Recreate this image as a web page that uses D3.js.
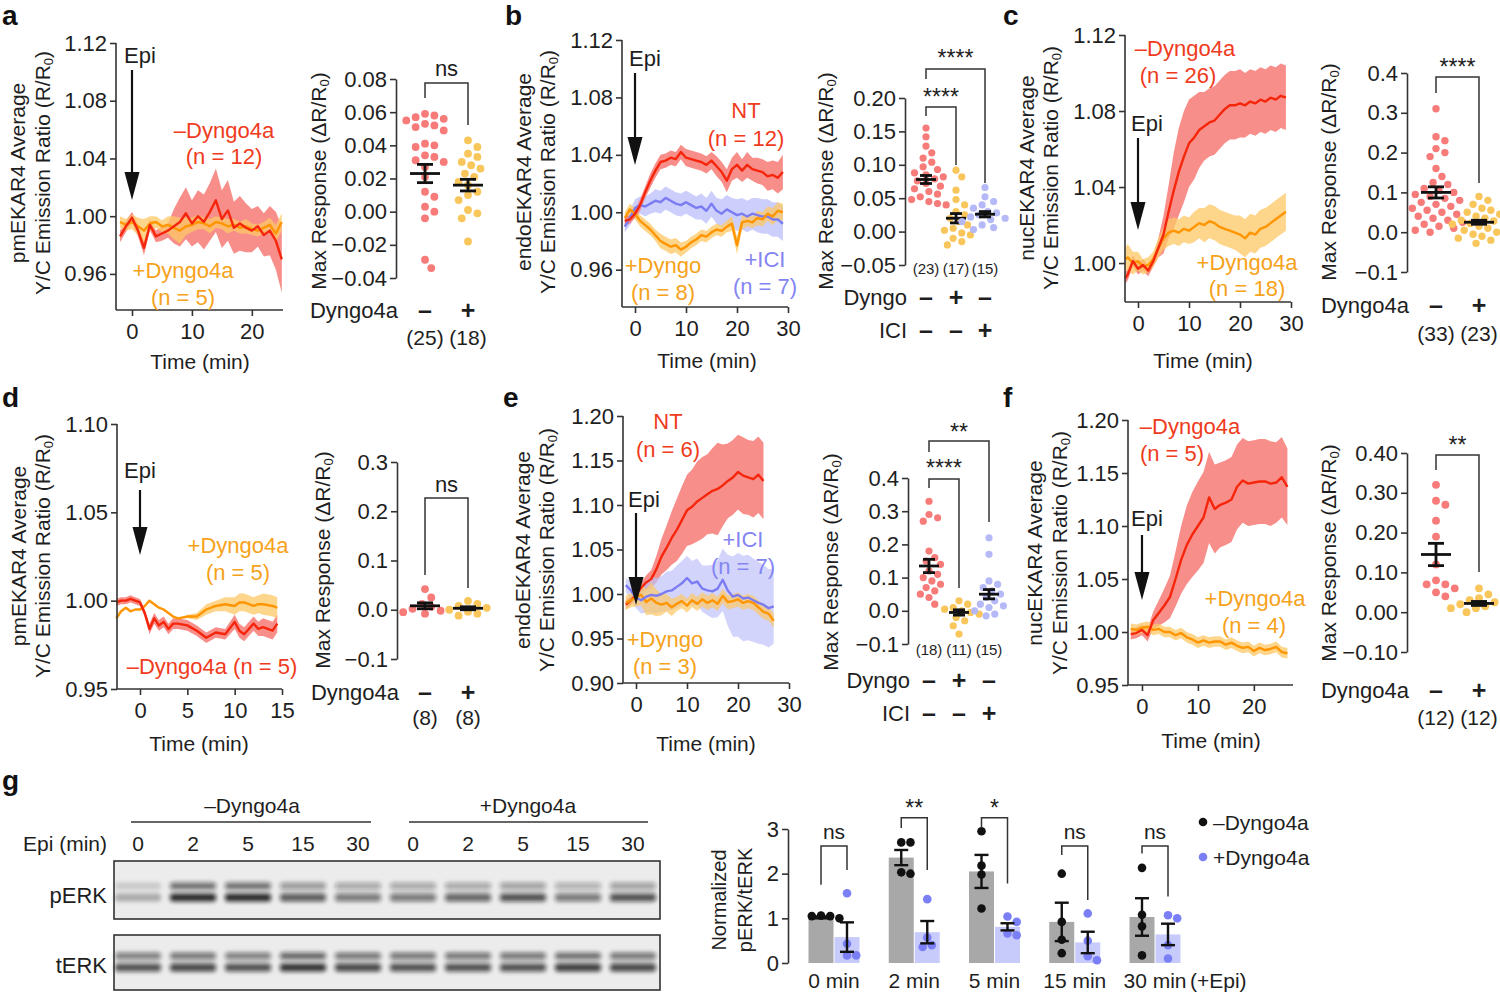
<!DOCTYPE html>
<html><head><meta charset="utf-8">
<script src="https://cdn.jsdelivr.net/npm/d3@7"></script>
<style>body{margin:0;background:#fff}</style>
</head><body>
<script>
// ================= DATA =================
// Panel a (pmEKAR4)
const tA = [-2,-1,0,1,2,3,4,5,6,7,8,9,10,11,12,13,14,15,16,17,18,19,20,21,22,23,24,25];
const aRedM = [0.986,0.993,0.999,0.990,0.978,0.994,0.986,0.988,0.990,0.993,0.996,1.002,0.995,1.000,0.996,1.003,1.011,0.998,1.004,0.992,0.995,0.992,0.990,0.993,0.987,0.990,0.983,0.970];
const aRedE = [0.004,0.004,0.004,0.004,0.005,0.004,0.004,0.005,0.005,0.012,0.017,0.018,0.016,0.018,0.019,0.020,0.022,0.020,0.021,0.018,0.019,0.017,0.015,0.014,0.015,0.017,0.020,0.023];
const aOrM = [0.996,0.994,0.996,0.993,0.990,0.995,0.996,0.993,0.994,0.992,0.990,0.993,0.994,0.996,0.995,0.993,0.996,0.995,0.993,0.994,0.992,0.993,0.991,0.990,0.992,0.994,0.988,0.996];
const aOrE = [0.004,0.004,0.005,0.006,0.008,0.005,0.004,0.004,0.006,0.008,0.009,0.006,0.005,0.005,0.004,0.005,0.004,0.004,0.005,0.004,0.004,0.005,0.004,0.004,0.004,0.005,0.006,0.006];
// Panel b (endoEKAR4)
const tB = [-2,-1,0,1,2,3,4,5,6,7,8,9,10,11,12,13,14,15,16,17,18,19,20,21,22,23,24,25,26,27,28,29];
const bRedM = [0.994,0.995,0.999,1.005,1.014,1.022,1.029,1.035,1.036,1.038,1.037,1.042,1.038,1.037,1.036,1.035,1.033,1.036,1.032,1.028,1.022,1.030,1.033,1.029,1.033,1.030,1.029,1.028,1.025,1.026,1.024,1.028];
const bRedE = [0.003,0.003,0.003,0.004,0.004,0.005,0.005,0.005,0.005,0.005,0.005,0.005,0.006,0.006,0.006,0.006,0.006,0.006,0.007,0.007,0.008,0.008,0.009,0.008,0.009,0.008,0.009,0.009,0.010,0.010,0.011,0.012];
const bBlueM = [0.990,0.996,1.003,1.005,1.004,1.006,1.008,1.007,1.010,1.008,1.006,1.005,1.007,1.005,1.003,1.004,1.001,1.006,1.001,0.999,1.002,1.000,0.998,0.999,0.997,0.999,0.998,0.997,0.997,0.995,0.995,0.992];
const bBlueE = [0.004,0.005,0.006,0.006,0.007,0.007,0.008,0.008,0.008,0.008,0.008,0.008,0.008,0.008,0.008,0.009,0.009,0.009,0.009,0.010,0.010,0.010,0.011,0.011,0.011,0.011,0.012,0.012,0.012,0.012,0.012,0.012];
const bOrM = [0.996,1.002,0.999,0.994,0.991,0.988,0.984,0.980,0.978,0.976,0.977,0.974,0.976,0.979,0.981,0.984,0.983,0.986,0.988,0.987,0.990,0.992,0.977,0.993,0.994,0.993,0.996,0.995,0.999,0.997,1.001,1.000];
const bOrE = [0.004,0.004,0.004,0.004,0.004,0.004,0.004,0.005,0.005,0.005,0.005,0.005,0.004,0.004,0.004,0.004,0.004,0.004,0.004,0.004,0.004,0.005,0.006,0.005,0.004,0.004,0.005,0.005,0.005,0.006,0.006,0.006];
// Panel c (nucEKAR4)
const tC = [-2.5,-2,-1,0,1,2,3,4,5,6,7,8,9,10,11,12,13,14,15,16,17,18,19,20,21,22,23,24,25,26,27,28,29];
const cRedM = [0.992,0.994,1.001,0.997,0.999,0.996,1.001,1.008,1.015,1.027,1.038,1.048,1.056,1.063,1.066,1.070,1.072,1.074,1.075,1.078,1.081,1.083,1.083,1.084,1.083,1.085,1.084,1.086,1.085,1.087,1.086,1.088,1.087];
const cRedE = [0.003,0.003,0.003,0.003,0.003,0.003,0.003,0.005,0.010,0.014,0.020,0.023,0.024,0.023,0.022,0.020,0.018,0.018,0.018,0.018,0.018,0.018,0.018,0.018,0.017,0.017,0.017,0.017,0.017,0.017,0.017,0.017,0.017];
const cOrM = [1.002,1.003,1.000,1.001,0.998,0.999,1.002,1.008,1.013,1.016,1.017,1.016,1.018,1.017,1.019,1.021,1.020,1.022,1.021,1.019,1.018,1.017,1.016,1.015,1.013,1.016,1.015,1.018,1.019,1.021,1.023,1.025,1.027];
const cOrE = [0.006,0.007,0.006,0.005,0.004,0.004,0.004,0.005,0.006,0.007,0.007,0.007,0.007,0.007,0.008,0.008,0.009,0.009,0.009,0.009,0.009,0.009,0.009,0.010,0.010,0.010,0.010,0.010,0.010,0.010,0.010,0.010,0.010];
// Panel d (pmEKAR4)
const tD = [-2.5,-2,-1.5,-1,-0.5,0,0.5,1,1.5,2,2.5,3,3.5,4,5,6,7,8,9,10,10.5,11,12,12.5,13,14,14.5];
const dRedM = [0.999,1.000,1.000,1.001,1.000,0.999,0.993,0.984,0.990,0.986,0.988,0.984,0.987,0.987,0.986,0.983,0.979,0.982,0.981,0.988,0.983,0.981,0.987,0.984,0.985,0.983,0.987];
const dRedE = [0.002,0.002,0.002,0.002,0.002,0.002,0.002,0.003,0.003,0.003,0.003,0.003,0.003,0.003,0.003,0.003,0.003,0.003,0.003,0.004,0.004,0.004,0.004,0.004,0.005,0.005,0.005];
const dOrM = [0.990,0.994,0.996,0.994,0.995,0.995,0.997,1.000,0.998,0.996,0.995,0.993,0.991,0.990,0.991,0.991,0.995,0.997,0.998,0.997,0.999,0.999,0.997,0.998,0.998,0.997,0.996];
const dOrE = [0,0,0,0,0,0,0,0,0,0,0,0,0,0,0.001,0.002,0.003,0.003,0.004,0.005,0.005,0.005,0.005,0.005,0.006,0.006,0.006];
// Panel e (endoEKAR4)
const tE = [-2,-1,0,1,2,3,4,5,6,7,8,9,10,11,12,13,14,15,16,17,18,19,20,21,22,23,24,25,26,27];
const tEr = [-2,-1,0,1,2,3,4,5,6,7,8,9,10,11,12,13,14,15,16,17,18,19,20,21,22,23,24,25];
const eRedM = [0.988,0.993,0.999,1.007,1.013,1.017,1.028,1.042,1.052,1.063,1.072,1.083,1.094,1.098,1.104,1.108,1.112,1.116,1.118,1.122,1.127,1.131,1.137,1.133,1.131,1.129,1.134,1.127];
const eRedE = [0.005,0.005,0.005,0.006,0.008,0.010,0.015,0.020,0.025,0.030,0.035,0.038,0.040,0.042,0.045,0.046,0.045,0.048,0.052,0.046,0.042,0.042,0.042,0.043,0.042,0.043,0.043,0.043];
const eBlueM = [1.010,1.004,0.996,0.993,0.997,0.999,0.998,1.000,1.003,1.004,1.008,1.012,1.018,1.012,1.014,1.006,1.004,1.003,1.006,1.016,1.004,0.997,0.999,0.995,0.996,0.993,0.990,0.988,0.984,0.986];
const eBlueE = [0.008,0.010,0.012,0.015,0.018,0.020,0.020,0.020,0.022,0.022,0.024,0.025,0.025,0.025,0.026,0.026,0.028,0.030,0.032,0.035,0.040,0.045,0.047,0.048,0.048,0.047,0.046,0.045,0.044,0.042];
const eOrM = [0.990,0.993,0.996,0.999,0.991,0.995,0.990,0.988,0.990,0.985,0.989,0.992,0.987,0.993,0.989,0.994,0.990,0.993,0.989,0.998,0.991,0.992,0.994,0.990,0.992,0.990,0.985,0.980,0.978,0.970];
const eOrE = [0.008,0.008,0.010,0.012,0.015,0.018,0.015,0.012,0.010,0.010,0.008,0.008,0.008,0.008,0.008,0.008,0.008,0.008,0.008,0.008,0.008,0.008,0.008,0.008,0.008,0.008,0.008,0.008,0.008,0.008];
// Panel f (nucEKAR4)
const tF = [-2,-1,0,1,2,3,4,5,6,7,8,9,10,11,12,13,14,15,16,17,18,19,20,21,22,23,24,25,26];
const fRedM = [0.998,0.999,1.002,0.997,1.011,1.018,1.025,1.033,1.050,1.068,1.082,1.092,1.100,1.108,1.127,1.116,1.120,1.122,1.125,1.137,1.143,1.140,1.141,1.142,1.142,1.140,1.141,1.146,1.137];
const fRedE = [0.005,0.005,0.005,0.006,0.008,0.012,0.016,0.020,0.026,0.032,0.037,0.040,0.042,0.043,0.043,0.042,0.040,0.040,0.040,0.040,0.040,0.040,0.040,0.040,0.040,0.040,0.038,0.038,0.036];
const fOrM = [1.003,1.002,1.004,1.005,1.002,1.003,1.000,1.000,0.997,0.999,0.995,0.993,0.990,0.992,0.990,0.991,0.991,0.988,0.990,0.987,0.985,0.986,0.982,0.985,0.983,0.984,0.986,0.981,0.980];
const fOrE = [0.005,0.005,0.005,0.005,0.005,0.005,0.005,0.005,0.005,0.005,0.005,0.005,0.005,0.005,0.005,0.005,0.005,0.005,0.005,0.005,0.005,0.005,0.005,0.005,0.005,0.005,0.005,0.005,0.005];

// Tick labels
const yTicksAB = [0.96,1.00,1.04,1.08,1.12];
const yTicksC = [1.00,1.04,1.08,1.12];
const yTicksD = [0.95,1.00,1.05,1.10];
const yTicksE = [0.90,0.95,1.00,1.05,1.10,1.15,1.20];
const yTicksF = [0.95,1.00,1.05,1.10,1.15,1.20];
const xTicks20 = [0,10,20];
const xTicks30 = [0,10,20,30];
const xTicks15 = [0,5,10,15];

// Max response dot plots
const dotA = [[0.059,0.058,0.057,0.056,0.055,0.053,0.052,0.051,0.049,0.041,0.040,0.039,0.034,0.033,0.031,0.030,0.027,0.021,0.012,0.009,0.003,0.000,-0.004,-0.029,-0.034],
              [0.043,0.039,0.035,0.033,0.030,0.028,0.026,0.023,0.021,0.018,0.016,0.012,0.010,0.007,0.001,-0.001,-0.004,-0.018]];
const meanA = [0.023,0.016], semA = [0.0055,0.0035], nA = ["(25)","(18)"];
const dotB = [[0.155,0.142,0.128,0.118,0.110,0.104,0.097,0.093,0.088,0.085,0.082,0.079,0.076,0.072,0.068,0.064,0.060,0.056,0.052,0.048,0.045,0.042,0.040],
              [0.092,0.082,0.062,0.048,0.040,0.030,0.025,0.020,0.015,0.010,0.005,0.002,-0.002,-0.005,-0.010,-0.015,-0.020],
              [0.066,0.052,0.045,0.040,0.035,0.030,0.028,0.025,0.022,0.020,0.018,0.015,0.010,0.006,0.003]];
const meanB = [0.078,0.020,0.026], semB = [0.006,0.007,0.004], nB = ["(23)","(17)","(15)"];
const dotC = [[0.31,0.24,0.23,0.21,0.20,0.19,0.16,0.14,0.125,0.12,0.11,0.105,0.10,0.095,0.09,0.085,0.08,0.075,0.07,0.065,0.06,0.055,0.05,0.045,0.04,0.035,0.03,0.025,0.02,0.015,0.01,0.005,0.0],
              [0.09,0.08,0.07,0.06,0.055,0.05,0.045,0.04,0.035,0.03,0.028,0.025,0.022,0.02,0.015,0.01,0.005,0.0,-0.005,-0.01,-0.015,-0.02,-0.028]];
const meanC = [0.10,0.025], semC = [0.014,0.005], nC = ["(33)","(23)"];
const dotD = [[0.042,0.025,0.012,0.006,0.002,-0.002,-0.005,-0.008],
              [0.018,0.012,0.008,0.004,0.0,-0.004,-0.008,-0.012]];
const meanD = [0.008,0.003], semD = [0.006,0.003], nD = ["(8)","(8)"];
const dotE = [[0.33,0.29,0.28,0.27,0.18,0.16,0.15,0.14,0.12,0.11,0.10,0.09,0.08,0.07,0.06,0.05,0.04,0.02],
              [0.03,0.02,0.01,0.005,0.0,-0.005,-0.01,-0.02,-0.03,-0.045,-0.07],
              [0.22,0.17,0.09,0.08,0.07,0.06,0.05,0.04,0.03,0.02,0.015,0.01,0.0,-0.01,-0.015]];
const meanE = [0.135,-0.005,0.05], semE = [0.02,0.008,0.014], nE = ["(18)","(11)","(15)"];
const dotF = [[0.32,0.28,0.27,0.23,0.19,0.12,0.08,0.07,0.07,0.06,0.05,0.04],
              [0.06,0.045,0.035,0.03,0.025,0.02,0.02,0.015,0.01,0.01,0.005,0.0]];
const meanF = [0.145,0.022], semF = [0.028,0.005], nF = ["(12)","(12)"];
const dotTicksA = [-0.04,-0.02,0.00,0.02,0.04,0.06,0.08];
const dotTicksB = [-0.05,0.00,0.05,0.10,0.15,0.20];
const dotTicksC = [-0.1,0.0,0.1,0.2,0.3,0.4];
const dotTicksD = [-0.1,0.0,0.1,0.2,0.3];
const dotTicksF = [-0.10,0.00,0.10,0.20,0.30,0.40];

// Panel g: western blot
const laneLabels = ["0","2","5","15","30","0","2","5","15","30"];
const pERKup = [0.22,0.80,0.80,0.55,0.45,0.45,0.45,0.50,0.40,0.50];
const pERKlo = [0.32,1.00,1.00,0.75,0.60,0.60,0.70,0.80,0.60,0.80];
const tERKup = [0.70,0.75,0.70,0.85,0.75,0.75,0.75,0.75,0.80,0.75];
const tERKlo = [0.80,0.85,0.80,0.95,0.85,0.80,0.80,0.80,0.90,0.85];
// Panel g: quantification
const gCats = ["0 min","2 min","5 min","15 min","30 min"];
const grayMean = [1.02,2.36,2.05,0.92,1.03];
const graySem = [0.02,0.17,0.37,0.43,0.42];
const blueMean = [0.58,0.69,0.81,0.46,0.64];
const blueSem = [0.33,0.25,0.08,0.24,0.24];
const grayDots = [[1.06,1.05,1.05,1.00],[2.70,2.70,2.03,2.00],[2.95,2.18,1.98,1.22],[2.00,0.92,0.52,0.22],[2.13,1.08,0.82,0.17]];
const blueDots = [[1.56,0.43,0.17,0.17],[1.43,0.57,0.40,0.36],[1.04,0.92,0.66,0.62],[1.11,0.50,0.15,0.06],[1.07,1.00,0.40,0.10]];
const gSig = ["ns","**","*","ns","ns"];
const gSigTop = [2.62,3.25,3.25,2.62,2.62];
const gSigLeft = [1.75,3.02,3.02,2.42,2.45];
const gSigRight = [2.08,2.08,1.78,1.41,1.49];
const gTicks = [0,1,2,3];

// ================= STYLE =================
const FONT = "'Liberation Sans', Arial, Helvetica, sans-serif";
const INK = "#1e1e1e", AX = "#333";
const TICK_FS = 22, TITLE_FS = 21, NOTE_FS = 22;
const RED_LINE="#f5260c", RED_BAND="#f77a76", RED_TXT="#ef3b20", RED_DOT="#f67b79";
const OR_LINE="#ff9500", OR_BAND="#fcc865", OR_TXT="#f6a21a", OR_DOT="#f9c65c";
const BL_LINE="#7b7cf2", BL_BAND="#bfc2fa", BL_TXT="#8484f2", BL_DOT="#b5b9f7";

const svg = d3.select("body").append("svg").attr("width",1500).attr("height",996)
  .style("font-family",FONT);
svg.append("rect").attr("width",1500).attr("height",996).attr("fill","#fff");
const defs = svg.append("defs");
defs.append("filter").attr("id","blur").attr("x","-50%").attr("y","-200%").attr("width","200%").attr("height","500%")
  .append("feGaussianBlur").attr("stdDeviation",2.2);

function txt(x,y,s,o={}) {
  const t = svg.append("text").attr("x",x).attr("y",y)
    .attr("text-anchor",o.anchor||"middle").attr("dominant-baseline","central")
    .attr("font-size",o.size||NOTE_FS).attr("fill",o.fill||INK);
  if (o.weight) t.attr("font-weight",o.weight);
  t.text(s); return t;
}
function rtitle(x,y,parts,size) {
  const t = svg.append("text").attr("transform",`translate(${x},${y}) rotate(-90)`)
    .attr("text-anchor","middle").attr("dominant-baseline","central")
    .attr("font-size",size).attr("fill",INK);
  parts.forEach(p => {
    const ts = t.append("tspan").text(p.s);
    if (p.sub) ts.attr("font-size",size*0.62).attr("dy",size*0.28);
    if (p.after) ts.attr("dy",-size*0.28);
  });
}
function styleAxis(g, fs) {
  g.attr("font-family",FONT).attr("font-size",fs||TICK_FS);
  g.select(".domain").attr("stroke",AX).attr("stroke-width",1.6);
  g.selectAll(".tick line").attr("stroke",AX).attr("stroke-width",1.6);
  g.selectAll(".tick text").attr("fill",INK);
}
function arrow(x,y0,y1) {
  svg.append("line").attr("x1",x).attr("x2",x).attr("y1",y0).attr("y2",y1-24)
    .attr("stroke","#111").attr("stroke-width",2.2);
  svg.append("path").attr("d",`M${x-7.5},${y1-28}L${x+7.5},${y1-28}L${x},${y1}Z`).attr("fill","#111");
}
function swarm(vals, y, cx, r, step, sep) {
  const placed = [];
  const sorted = vals.slice().sort((a,b)=>b-a);
  const offs=[0]; for (let j=1;j<40;j++){offs.push(j*step,-j*step);}
  const dmin = 2*r*(sep||0.92);
  sorted.forEach(v => {
    const py = y(v); let px = cx;
    for (const o of offs) {
      const ok = placed.every(q => (q.x-(cx+o))**2 + (q.y-py)**2 >= dmin*dmin);
      if (ok) { px = cx+o; break; }
    }
    placed.push({x:px,y:py});
  });
  return placed;
}

// ================= TIME-COURSE PANELS =================
function timePanel(p) {
  const x = d3.scaleLinear().domain(p.xDom).range([p.x0,p.x1]);
  const y = d3.scaleLinear().domain(p.yDom).range([p.yb,p.yt]);
  const g = svg.append("g");
  p.series.forEach(s => {
    const pts = s.t.map((t,i)=>({t, m:s.m[i], e:s.e[i]}));
    g.append("path").datum(pts)
      .attr("d", d3.area().x(d=>x(d.t)).y0(d=>y(d.m-d.e)).y1(d=>y(d.m+d.e)))
      .attr("fill",s.band).attr("opacity",s.op);
  });
  p.lineOrder.forEach(k => {
    const s = p.series[k];
    const pts = s.t.map((t,i)=>({t, m:s.m[i]}));
    g.append("path").datum(pts)
      .attr("d", d3.line().x(d=>x(d.t)).y(d=>y(d.m)))
      .attr("fill","none").attr("stroke",s.line).attr("stroke-width",2.4).attr("stroke-linejoin","round");
  });
  const ya = svg.append("g").attr("transform",`translate(${p.x0},0)`)
    .call(d3.axisLeft(y).tickValues(p.yTicks).tickFormat(d3.format(".2f")).tickSize(6).tickSizeOuter(0).tickPadding(3));
  styleAxis(ya);
  const xa = svg.append("g").attr("transform",`translate(0,${p.yb})`)
    .call(d3.axisBottom(x).tickValues(p.xTicks).tickFormat(d3.format("d")).tickSize(6).tickSizeOuter(0).tickPadding(7));
  styleAxis(xa);
  xa.select(".domain").attr("d",`M${p.x0},0H${p.x1}`);
  ya.select(".domain").attr("d",`M0,${p.yb}V${p.yt}`);
  rtitle(p.tx[0], p.ty, [{s:p.title1}], TITLE_FS);
  rtitle(p.tx[1], p.ty, [{s:"Y/C Emission Ratio (R/R"},{s:"0",sub:true},{s:")",after:true}], TITLE_FS);
  txt(p.timeX, p.timeY, "Time (min)", {size:TITLE_FS});
  txt(p.epi[0], p.epi[1], "Epi", {size:NOTE_FS});
  arrow(x(0), p.epi[2], p.epi[3]);
  p.notes.forEach(n => txt(n[0], n[1], n[2], {fill:n[3], size:NOTE_FS}));
}

timePanel({x0:116,x1:283,xDom:[-2.67,25.2],yt:43,yb:310,yDom:[0.935,1.12],yTicks:yTicksAB,xTicks:xTicks20,
  series:[{t:tA,m:aRedM,e:aRedE,line:RED_LINE,band:RED_BAND,op:0.85},{t:tA,m:aOrM,e:aOrE,line:OR_LINE,band:OR_BAND,op:0.75}],
  lineOrder:[1,0], title1:"pmEKAR4 Average", tx:[17,42], ty:173, timeX:200, timeY:361,
  epi:[140,55,70,200],
  notes:[[224,130,"–Dyngo4a",RED_TXT],[224,156,"(n = 12)",RED_TXT],[183,270,"+Dyngo4a",OR_TXT],[183,297,"(n = 5)",OR_TXT]]});

timePanel({x0:622,x1:788,xDom:[-2.55,30],yt:40,yb:307,yDom:[0.934,1.12],yTicks:yTicksAB,xTicks:xTicks30,
  series:[{t:tB,m:bBlueM,e:bBlueE,line:BL_LINE,band:BL_BAND,op:0.8},{t:tB,m:bOrM,e:bOrE,line:OR_LINE,band:OR_BAND,op:0.75},{t:tB,m:bRedM,e:bRedE,line:RED_LINE,band:RED_BAND,op:0.85}],
  lineOrder:[0,1,2], title1:"endoEKAR4 Average", tx:[523,547], ty:172, timeX:707, timeY:360,
  epi:[645,58,73,165],
  notes:[[746,110,"NT",RED_TXT],[746,138,"(n = 12)",RED_TXT],[663,265,"+Dyngo",OR_TXT],[663,292,"(n = 8)",OR_TXT],[765,259,"+ICI",BL_TXT],[765,286,"(n = 7)",BL_TXT]]});

timePanel({x0:1125,x1:1291,xDom:[-2.55,30],yt:35,yb:302,yDom:[0.9795,1.12],yTicks:yTicksC,xTicks:xTicks30,
  series:[{t:tC,m:cRedM,e:cRedE,line:RED_LINE,band:RED_BAND,op:0.85},{t:tC,m:cOrM,e:cOrE,line:OR_LINE,band:OR_BAND,op:0.75}],
  lineOrder:[1,0], title1:"nucEKAR4 Average", tx:[1026,1050], ty:168, timeX:1203, timeY:360,
  epi:[1147,123,138,230],
  notes:[[1185,48,"–Dyngo4a",RED_TXT],[1178,75,"(n = 26)",RED_TXT],[1247,262,"+Dyngo4a",OR_TXT],[1247,288,"(n = 18)",OR_TXT]]});

timePanel({x0:117,x1:282,xDom:[-2.43,15],yt:424,yb:689,yDom:[0.95,1.10],yTicks:yTicksD,xTicks:xTicks15,
  series:[{t:tD,m:dRedM,e:dRedE,line:RED_LINE,band:RED_BAND,op:0.85},{t:tD,m:dOrM,e:dOrE,line:OR_LINE,band:OR_BAND,op:0.75}],
  lineOrder:[1,0], title1:"pmEKAR4 Average", tx:[18,42], ty:556, timeX:199, timeY:743,
  epi:[140,470,490,555],
  notes:[[238,545,"+Dyngo4a",OR_TXT],[238,572,"(n = 5)",OR_TXT],[212,666,"–Dyngo4a (n = 5)",RED_TXT]]});

timePanel({x0:623,x1:789,xDom:[-2.55,30],yt:416,yb:683,yDom:[0.90,1.20],yTicks:yTicksE,xTicks:xTicks30,
  series:[{t:tEr,m:eRedM,e:eRedE,line:RED_LINE,band:RED_BAND,op:0.85},{t:tE,m:eBlueM,e:eBlueE,line:BL_LINE,band:BL_BAND,op:0.7},{t:tE,m:eOrM,e:eOrE,line:OR_LINE,band:OR_BAND,op:0.7}],
  lineOrder:[0,2,1], title1:"endoEKAR4 Average", tx:[522,546], ty:550, timeX:706, timeY:743,
  epi:[644,499,513,605],
  notes:[[668,421,"NT",RED_TXT],[668,449,"(n = 6)",RED_TXT],[743,539,"+ICI",BL_TXT],[743,566,"(n = 7)",BL_TXT],[665,639,"+Dyngo",OR_TXT],[665,666,"(n = 3)",OR_TXT]]});

timePanel({x0:1128,x1:1293,xDom:[-2.5,27],yt:420,yb:685,yDom:[0.95,1.20],yTicks:yTicksF,xTicks:xTicks20,
  series:[{t:tF,m:fRedM,e:fRedE,line:RED_LINE,band:RED_BAND,op:0.85},{t:tF,m:fOrM,e:fOrE,line:OR_LINE,band:OR_BAND,op:0.75}],
  lineOrder:[1,0], title1:"nucEKAR4 Average", tx:[1034,1059], ty:553, timeX:1211, timeY:740,
  epi:[1147,518,535,600],
  notes:[[1190,426,"–Dyngo4a",RED_TXT],[1172,453,"(n = 5)",RED_TXT],[1255,598,"+Dyngo4a",OR_TXT],[1254,625,"(n = 4)",OR_TXT]]});

// ================= DOT PLOTS =================
function dotPanel(p) {
  const y = d3.scaleLinear().domain(p.yDom).range([p.yb,p.yt]);
  const ya = svg.append("g").attr("transform",`translate(${p.ax},0)`)
    .call(d3.axisLeft(y).tickValues(p.ticks).tickFormat(d3.format(p.fmt)).tickSize(6).tickSizeOuter(0).tickPadding(3));
  styleAxis(ya);
  rtitle(p.title[0], p.title[1], [{s:"Max Response (ΔR/R"},{s:"0",sub:true},{s:")",after:true}], TITLE_FS);
  p.dots.forEach((vals,i) => {
    const cx = p.cols[i];
    swarm(vals, y, cx, p.r, p.r*0.8, 1.18).forEach(d => {
      svg.append("circle").attr("cx",d.x).attr("cy",d.y).attr("r",p.r).attr("fill",p.colors[i]);
    });
    const m = y(p.mean[i]), lo = y(p.mean[i]-p.sem[i]), hi = y(p.mean[i]+p.sem[i]);
    const k = svg.append("g").attr("stroke","#111").attr("stroke-width",2.8).attr("fill","none");
    k.append("line").attr("x1",cx-p.hw).attr("x2",cx+p.hw).attr("y1",m).attr("y2",m);
    k.append("line").attr("x1",cx).attr("x2",cx).attr("y1",lo).attr("y2",hi);
    k.append("line").attr("x1",cx-p.cw).attr("x2",cx+p.cw).attr("y1",lo).attr("y2",lo);
    k.append("line").attr("x1",cx-p.cw).attr("x2",cx+p.cw).attr("y1",hi).attr("y2",hi);
  });
  p.brackets.forEach(b => {
    svg.append("path").attr("d",`M${b[0]},${b[3]}V${b[2]}H${b[1]}V${b[4]}`)
      .attr("fill","none").attr("stroke",AX).attr("stroke-width",1.5);
    const star = b[5].includes("*");
    txt((b[0]+b[1])/2, b[6] + (star?5:0), b[5], {size: star?23:NOTE_FS});
  });
  if (p.nRow) p.n.forEach((s,i)=>txt(p.cols[i], p.nRow, s, {size:p.nSize||21}));
  p.rows.forEach(r => {
    txt(p.ax+2, r[1], r[0], {anchor:"end", size:NOTE_FS});
    r[2].forEach((s,i)=>txt(p.cols[i], r[1], s, {size:25, weight:"bold"}));
  });
}

dotPanel({ax:396,yt:79,yb:278,yDom:[-0.04,0.08],ticks:dotTicksA,fmt:".2f",cols:[425,468],title:[318,181],
  dots:dotA,mean:meanA,sem:semA,colors:[RED_DOT,OR_DOT],r:3.9,hw:15,cw:8,
  brackets:[[425,468,83,98,125,"ns",68]], n:nA, nRow:337,
  rows:[["Dyngo4a",310,["–","+"]]]});
dotPanel({ax:905,yt:98,yb:265,yDom:[-0.05,0.20],ticks:dotTicksB,fmt:".2f",cols:[926,956,985],title:[825,181],
  dots:dotB,mean:meanB,sem:semB,colors:[RED_DOT,OR_DOT,BL_DOT],r:3.6,hw:10,cw:6,
  brackets:[[926,985,69,79,183,"****",53],[926,956,107,116,165,"****",92]], n:nB, nRow:268, nSize:15,
  rows:[["Dyngo",297,["–","+","–"]],["ICI",330,["–","–","+"]]]});
dotPanel({ax:1407,yt:73,yb:272,yDom:[-0.1,0.4],ticks:dotTicksC,fmt:".1f",cols:[1436,1479],title:[1328,172],
  dots:dotC,mean:meanC,sem:semC,colors:[RED_DOT,OR_DOT],r:3.7,hw:15,cw:8,
  brackets:[[1436,1479,77,93,183,"****",62]], n:nC, nRow:333,
  rows:[["Dyngo4a",305,["–","+"]]]});
dotPanel({ax:397,yt:462,yb:659,yDom:[-0.1,0.3],ticks:dotTicksD,fmt:".1f",cols:[425,468],title:[322,560],
  dots:dotD,mean:meanD,sem:semD,colors:[RED_DOT,OR_DOT],r:3.9,hw:15,cw:8,
  brackets:[[425,468,498,575,588,"ns",484]], n:nD, nRow:717,
  rows:[["Dyngo4a",692,["–","+"]]]});
dotPanel({ax:908,yt:478,yb:644,yDom:[-0.1,0.4],ticks:dotTicksC,fmt:".1f",cols:[929,959,989],title:[830,562],
  dots:dotE,mean:meanE,sem:semE,colors:[RED_DOT,OR_DOT,BL_DOT],r:3.6,hw:10,cw:6,
  brackets:[[929,989,441,452,522,"**",427],[929,959,479,488,588,"****",463]], n:nE, nRow:649, nSize:15,
  rows:[["Dyngo",680,["–","+","–"]],["ICI",713,["–","–","+"]]]});
dotPanel({ax:1407,yt:453,yb:652,yDom:[-0.1,0.4],ticks:dotTicksF,fmt:".2f",cols:[1436,1479],title:[1328,553],
  dots:dotF,mean:meanF,sem:semF,colors:[RED_DOT,OR_DOT],r:3.9,hw:15,cw:8,
  brackets:[[1436,1479,455,470,572,"**",440]], n:nF, nRow:717,
  rows:[["Dyngo4a",690,["–","+"]]]});

// ================= PANEL LETTERS =================
[["a",2,25],["b",505,25],["c",1003,25],["d",2,407],["e",503,407],["f",1003,407],["g",2,790]].forEach(l=>{
  svg.append("text").attr("x",l[1]).attr("y",l[2]).attr("font-size",28).attr("font-weight","bold").attr("fill","#111").text(l[0]);
});

// ================= PANEL g: BLOT =================
const lane = d3.scalePoint().domain(d3.range(laneLabels.length)).range([138,633]);
txt(252,805,"–Dyngo4a",{size:21});
txt(528,805,"+Dyngo4a",{size:21});
svg.append("line").attr("x1",131).attr("x2",371).attr("y1",822).attr("y2",822).attr("stroke",AX).attr("stroke-width",1.5);
svg.append("line").attr("x1",409).attr("x2",648).attr("y1",822).attr("y2",822).attr("stroke",AX).attr("stroke-width",1.5);
txt(107,843,"Epi (min)",{anchor:"end",size:21});
laneLabels.forEach((s,i)=>txt(lane(i),843,s,{size:21}));
txt(107,895,"pERK",{anchor:"end",size:22});
txt(107,965,"tERK",{anchor:"end",size:22});
function blot(y0,h,up,lo,yu,yl) {
  svg.append("rect").attr("x",114).attr("y",y0).attr("width",546).attr("height",h).attr("fill","#ececec");
  const gb = svg.append("g").attr("filter","url(#blur)");
  laneLabels.forEach((s,i)=>{
    const cx = lane(i);
    gb.append("rect").attr("x",cx-23).attr("y",yu-3.5).attr("width",46).attr("height",7).attr("rx",3).attr("fill","#151515").attr("opacity",up[i]*0.72);
    gb.append("rect").attr("x",cx-23).attr("y",yl-3.5).attr("width",46).attr("height",8).attr("rx",3).attr("fill","#111").attr("opacity",lo[i]*0.88);
  });
  svg.append("rect").attr("x",114).attr("y",y0).attr("width",546).attr("height",h).attr("fill","none").attr("stroke",AX).attr("stroke-width",1.6);
}
blot(861,58,pERKup,pERKlo,886,897);
blot(935,55,tERKup,tERKlo,956,967);

// ================= PANEL g: BARS =================
const xb = d3.scalePoint().domain(gCats).range([834,1155]);
const yb = d3.scaleLinear().domain([0,3]).range([963,829]);
const yba = svg.append("g").attr("transform","translate(788,0)")
  .call(d3.axisLeft(yb).tickValues(gTicks).tickFormat(d3.format("d")).tickSize(6).tickSizeOuter(0).tickPadding(3));
styleAxis(yba, 22);
rtitle(719,900,[{s:"Normalized"}],20);
rtitle(745,900,[{s:"pERK/tERK"}],20);
gCats.forEach((c,i)=>{
  const cx = xb(c), gx = cx-13, bx = cx+13;
  svg.append("rect").attr("x",gx-12.5).attr("y",yb(grayMean[i])).attr("width",25).attr("height",yb(0)-yb(grayMean[i])).attr("fill","#a8a8a8");
  svg.append("rect").attr("x",bx-12.5).attr("y",yb(blueMean[i])).attr("width",25).attr("height",yb(0)-yb(blueMean[i])).attr("fill","#c7cbfb");
  swarm(grayDots[i], yb, gx, 4.3, 4.6).forEach(d=>svg.append("circle").attr("cx",d.x).attr("cy",d.y).attr("r",4.3).attr("fill","#111"));
  swarm(blueDots[i], yb, bx, 4.3, 4.6).forEach(d=>svg.append("circle").attr("cx",d.x).attr("cy",d.y).attr("r",4.3).attr("fill","#7b7ff5"));
  [[gx,grayMean[i],graySem[i]],[bx,blueMean[i],blueSem[i]]].forEach(e=>{
    const k = svg.append("g").attr("stroke","#111").attr("stroke-width",2.4);
    const lo = yb(Math.max(0,e[1]-e[2])), hi = yb(e[1]+e[2]);
    k.append("line").attr("x1",e[0]).attr("x2",e[0]).attr("y1",lo).attr("y2",hi);
    k.append("line").attr("x1",e[0]-7).attr("x2",e[0]+7).attr("y1",lo).attr("y2",lo);
    k.append("line").attr("x1",e[0]-7).attr("x2",e[0]+7).attr("y1",hi).attr("y2",hi);
  });
  svg.append("path").attr("d",`M${gx},${yb(gSigLeft[i])}V${yb(gSigTop[i])}H${bx}V${yb(gSigRight[i])}`)
    .attr("fill","none").attr("stroke",AX).attr("stroke-width",1.5);
  const star = gSig[i].includes("*");
  txt(cx, yb(gSigTop[i]) - 14 + (star?4:0), gSig[i], {size: star?23:21});
  txt(cx, 980, c, {size:21});
});
txt(1190,980,"(+Epi)",{anchor:"start",size:21});
svg.append("circle").attr("cx",1203).attr("cy",822).attr("r",4.3).attr("fill","#111");
svg.append("circle").attr("cx",1203).attr("cy",857).attr("r",4.3).attr("fill","#7b7ff5");
txt(1213,822,"–Dyngo4a",{anchor:"start",size:21});
txt(1213,857,"+Dyngo4a",{anchor:"start",size:21});
</script>
</body></html>
